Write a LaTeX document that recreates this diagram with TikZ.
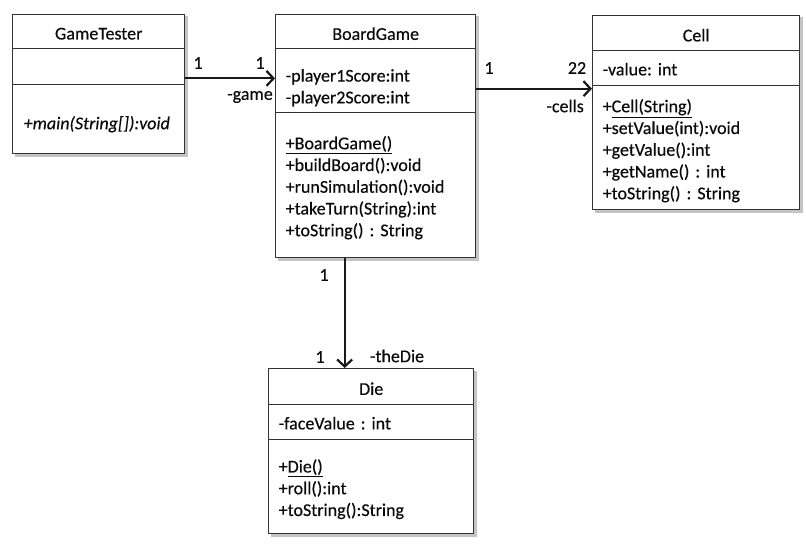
\documentclass[tikz,border=0pt]{standalone}
\usepackage{fontspec}
\setmainfont{Carlito}[RawFeature={embolden=0.35}]
\usetikzlibrary{arrows.meta,backgrounds}
\definecolor{linec}{HTML}{333333}
\definecolor{shadowc}{HTML}{C4C4C4}
\definecolor{textc}{HTML}{0A0A0A}
\newcommand\hdtxt[1]{\raisebox{-2pt}[\height][\depth]{#1}}
\frenchspacing
\begin{document}
\begin{tikzpicture}[x=1pt,y=-1pt,
  font=\fontsize{18}{21.75}\selectfont\frenchspacing, text=textc,
  comp/.style={draw=linec, line width=1.4pt, fill=white, inner sep=0pt, anchor=north west},
  head/.style={draw=linec, line width=1.4pt, fill=white, anchor=north west, inner sep=0pt, align=center},
  txt/.style={inner sep=0pt, align=left},
  assoc/.style={draw=black!90, line width=2.2pt, -{Straight Barb[length=7pt,width=15pt,line width=2.2pt]}},
  lbl/.style={inner sep=0pt}
]
\useasboundingbox (0,0) rectangle (806,545);

% GameTester
\node[head, minimum width=172pt, minimum height=34pt] (gtH) at (12,14) {\hdtxt{GameTester}};
\node[comp, minimum width=172pt, minimum height=36pt] (gtA) at (12,48) {};
\node[comp, minimum width=172pt, minimum height=69pt] (gtM) at (12,84) {};
\node[txt, text width=150pt, yshift=-5pt] (gtMt) at (gtM) {\textit{+main(String[]):void}};

% BoardGame
\node[head, minimum width=200pt, minimum height=34pt] (bgH) at (275,14) {\hdtxt{BoardGame}};
\node[comp, minimum width=200pt, minimum height=64pt] (bgA) at (275,48) {};
\node[txt, text width=180pt, yshift=-7pt] (bgAt) at (bgA) {-player1Score:int\\-player2Score:int};
\node[comp, minimum width=200pt, minimum height=145pt] (bgM) at (275,112) {};
\node[txt, text width=180pt, yshift=-2.5pt] (bgMt) at (bgM) {\underline{+BoardGame()}\\+buildBoard():void\\+runSimulation():void\\+takeTurn(String):int\\+toString() : String};

% Cell
\node[head, minimum width=207pt, minimum height=35pt] (cellH) at (592,15) {\hdtxt{Cell}};
\node[comp, minimum width=207pt, minimum height=35pt] (cellA) at (592,50) {};
\node[txt, text width=187pt, yshift=-1pt] (cellAt) at (cellA) {-value: int};
\node[comp, minimum width=207pt, minimum height=124pt] (cellM) at (592,85) {};
\node[txt, text width=187pt, yshift=-3pt] (cellMt) at (cellM) {+\underline{Cell(String)}\\+setValue(int):void\\+getValue():int\\+getName() : int\\+toString() : String};

% Die
\node[head, minimum width=205pt, minimum height=36pt] (dieH) at (268,368) {\hdtxt{Die}};
\node[comp, minimum width=205pt, minimum height=35pt] (dieA) at (268,404) {};
\node[txt, text width=185pt, yshift=-1pt] (dieAt) at (dieA) {-faceValue : int};
\node[comp, minimum width=205pt, minimum height=94pt] (dieM) at (268,439) {};
\node[txt, text width=185pt, yshift=-2.5pt] (dieMt) at (dieM) {+\underline{Die()}\\+roll():int\\+toString():String};

% shadows
\begin{scope}[on background layer]
  \fill[shadowc] ([shift={(2.5pt,-2.5pt)}]gtH.north west) rectangle ([shift={(2.5pt,-2.5pt)}]gtM.south east);
  \fill[shadowc] ([shift={(2.5pt,-2.5pt)}]bgH.north west) rectangle ([shift={(2.5pt,-2.5pt)}]bgM.south east);
  \fill[shadowc] ([shift={(2.5pt,-2.5pt)}]cellH.north west) rectangle ([shift={(2.5pt,-2.5pt)}]cellM.south east);
  \fill[shadowc] ([shift={(2.5pt,-2.5pt)}]dieH.north west) rectangle ([shift={(2.5pt,-2.5pt)}]dieM.south east);
\end{scope}

% connectors
\coordinate (c1) at ([yshift=7pt]gtA.south east);
\draw[assoc] (c1) -- (c1 -| bgA.west);
\coordinate (c2) at ([yshift=-8pt]bgA.east);
\draw[assoc] (c2) -- (c2 -| cellM.west);
\coordinate (c3) at ([xshift=-31pt]bgM.south);
\draw[assoc] (c3) -- (c3 |- dieH.north);

% labels
\node[lbl] (m1) at (198,63) {1};
\node[lbl] (m2) at (260,63) {1};
\node[lbl, anchor=east] (r1) at (273,97) {-game};
\node[lbl] (m3) at (489,68) {1};
\node[lbl] (m4) at (577,68) {22};
\node[lbl, anchor=east] (r2) at (584,106) {-cells};
\node[lbl] (m5) at (324,275) {1};
\node[lbl] (m6) at (320,357) {1};
\node[lbl] (r3) at (397,356) {-theDie};
\end{tikzpicture}
\end{document}
